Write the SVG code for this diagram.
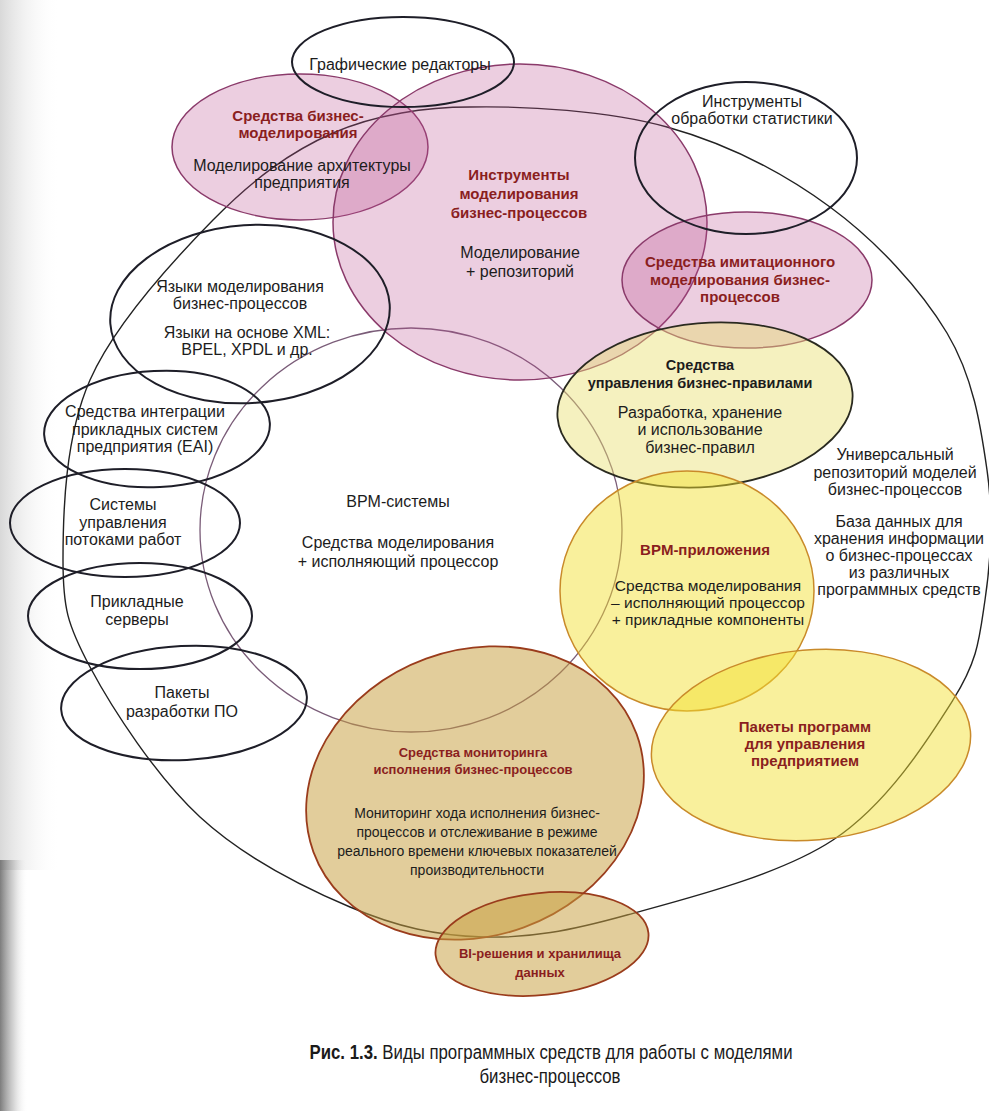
<svg xmlns="http://www.w3.org/2000/svg" width="989" height="1111" viewBox="0 0 989 1111">
<style>
  text { font-family: "Liberation Sans", Arial, sans-serif; text-anchor: middle; }
  .t { font-size: 16px; fill: #1c1c1c; }
  .ta { font-size: 15.5px; fill: #1c1c1c; }
  .tm { font-size: 14px; fill: #1c1c1c; }
  .b { font-size: 15px; font-weight: bold; fill: #8a1e1e; }
  .bs { font-size: 13px; font-weight: bold; fill: #8a1e1e; }
  .bk { font-size: 14.5px; font-weight: bold; fill: #1c1c1c; }
  .line { fill: none; }
  .blk { fill: none; stroke: #1e1e28; stroke-width: 2; }
  .pink { fill: #b94f8f; fill-opacity: 0.28; stroke: #8a3a6a; stroke-width: 1.5; }
  .rules { fill: #e8e070; fill-opacity: 0.45; stroke: #2a2a20; stroke-width: 1.8; }
  .yel { fill: #f2e030; fill-opacity: 0.48; stroke: #c98a2a; stroke-width: 1.5; }
  .tan { fill: #c8a040; fill-opacity: 0.52; stroke: #9a3c1c; stroke-width: 1.8; }
  .cap { font-family: "Liberation Sans", Arial, sans-serif; font-size: 21px; fill: #1a1a1a; }
</style>
<defs>
  <linearGradient id="edge" x1="0" y1="0" x2="1" y2="0">
    <stop offset="0" stop-color="#6e6e6e" stop-opacity="0.9"/>
    <stop offset="0.5" stop-color="#9a9a9a" stop-opacity="0.4"/>
    <stop offset="1" stop-color="#ffffff" stop-opacity="0"/>
  </linearGradient>
  <linearGradient id="edge2" x1="0" y1="0" x2="1" y2="0">
    <stop offset="0" stop-color="#c8c8c8" stop-opacity="0.7"/>
    <stop offset="1" stop-color="#ffffff" stop-opacity="0"/>
  </linearGradient>
</defs>
<rect width="989" height="1111" fill="#ffffff"/>
<rect x="0" y="0" width="60" height="870" fill="url(#edge2)"/>
<rect x="0" y="860" width="28" height="251" fill="url(#edge)"/>

<g id="connectors">
  <path id="universal-repo-outline" class="line" stroke="#222" stroke-width="1.4" d="M470,107 C525.7,106 607,110.3 667,127 C727,143.7 783.3,172.7 830,207 C876.7,241.3 920.8,289.2 947,333 C973.2,376.8 980.7,425.5 987,470 C993.3,514.5 990.7,561.7 985,600 C979.3,638.3 978.3,660 953,700 C927.7,740 887.3,804.2 833,840 C778.7,875.8 685.3,898.8 627,915 C568.7,931.2 529.2,938.3 483,937 C436.8,935.7 397.2,927 350,907 C302.8,887 243.3,857 200,817 C156.7,777 112.8,709.8 90,667 C67.2,624.2 63,607.8 63,560 C63,512.2 65,436.7 90,380 C115,323.3 172.5,261.2 213,220 C253.5,178.8 290.2,151.8 333,133 C375.8,114.2 427.2,107 470,107 Z"/>
  <ellipse id="bpm-systems-outline" class="line" cx="411" cy="530" rx="211" ry="202" stroke="#7a5c78" stroke-width="1.3"/>
</g>

<g id="n-biz-modeling"><ellipse class="pink" cx="300" cy="147" rx="128" ry="73"/></g>
<g id="n-tools"><ellipse class="pink" cx="520" cy="222" rx="187" ry="158"/></g>
<g id="n-simulation"><ellipse class="pink" cx="747" cy="280" rx="125" ry="68"/></g>
<g id="n-rules"><ellipse class="rules" cx="705" cy="405" rx="148" ry="82" transform="rotate(-5 705 405)"/></g>
<g id="n-bpm-apps"><ellipse class="yel" cx="687" cy="591" rx="127" ry="120"/></g>
<g id="n-erp"><ellipse class="yel" cx="811" cy="745" rx="160" ry="95" transform="rotate(-5 811 745)"/></g>
<g id="n-monitoring"><ellipse class="tan" cx="475" cy="793" rx="172" ry="143" transform="rotate(-20 475 793)"/></g>
<g id="n-bi"><ellipse class="tan" cx="542" cy="944" rx="107" ry="51" transform="rotate(-6 542 944)"/></g>
<g id="n-graphics"><ellipse class="blk" cx="403" cy="62" rx="111" ry="45" fill="#ffffff" fill-opacity="0.55"/></g>
<g id="n-stats"><ellipse class="blk" cx="746" cy="158" rx="111" ry="76" fill="#ffffff" fill-opacity="0.5"/></g>
<g id="n-languages"><ellipse class="blk" cx="250" cy="314" rx="140" ry="89" transform="rotate(-4 250 314)"/></g>
<g id="n-eai"><ellipse class="blk" cx="157" cy="429" rx="113" ry="58" transform="rotate(-3 157 429)"/></g>
<g id="n-workflow"><ellipse class="blk" cx="125" cy="523" rx="115" ry="54"/></g>
<g id="n-servers"><ellipse class="blk" cx="140" cy="616" rx="112" ry="53"/></g>
<g id="n-devkits"><ellipse class="blk" cx="184" cy="703" rx="123" ry="57" transform="rotate(-3 184 703)"/></g>

<g id="labels">
  <g id="l-graphics"><text class="t" x="400" y="70">Графические редакторы</text></g>
  <g id="l-biz-modeling">
    <text class="b" x="298" y="121">Средства бизнес-</text>
    <text class="b" x="298" y="138">моделирования</text>
    <text class="t" x="302" y="171">Моделирование архитектуры</text>
    <text class="t" x="302" y="188">предприятия</text>
  </g>
  <g id="l-tools">
    <text class="b" x="519" y="180">Инструменты</text>
    <text class="b" x="519" y="199">моделирования</text>
    <text class="b" x="519" y="218">бизнес-процессов</text>
    <text class="t" x="520" y="258">Моделирование</text>
    <text class="t" x="520" y="277">+ репозиторий</text>
  </g>
  <g id="l-stats">
    <text class="t" x="752" y="107">Инструменты</text>
    <text class="t" x="752" y="124">обработки статистики</text>
  </g>
  <g id="l-simulation">
    <text class="b" x="740" y="267">Средства имитационного</text>
    <text class="b" x="740" y="285">моделирования бизнес-</text>
    <text class="b" x="740" y="302">процессов</text>
  </g>
  <g id="l-rules">
    <text class="bk" x="700" y="370">Средства</text>
    <text class="bk" x="700" y="388">управления бизнес-правилами</text>
    <text class="t" x="700" y="418">Разработка, хранение</text>
    <text class="t" x="700" y="435">и использование</text>
    <text class="t" x="700" y="453">бизнес-правил</text>
  </g>
  <g id="l-universal">
    <text class="t" x="895" y="460">Универсальный</text>
    <text class="t" x="895" y="478">репозиторий моделей</text>
    <text class="t" x="895" y="495">бизнес-процессов</text>
    <text class="t" x="899" y="527">База данных для</text>
    <text class="t" x="899" y="544">хранения информации</text>
    <text class="t" x="899" y="561">о бизнес-процессах</text>
    <text class="t" x="899" y="578">из различных</text>
    <text class="t" x="899" y="595">программных средств</text>
  </g>
  <g id="l-bpm-apps">
    <text class="b" x="705" y="555">BPM-приложения</text>
    <text class="ta" x="708" y="591">Средства моделирования</text>
    <text class="ta" x="708" y="608">– исполняющий процессор</text>
    <text class="ta" x="708" y="625">+ прикладные компоненты</text>
  </g>
  <g id="l-erp">
    <text class="b" x="805" y="732">Пакеты программ</text>
    <text class="b" x="805" y="749">для управления</text>
    <text class="b" x="805" y="766">предприятием</text>
  </g>
  <g id="l-monitoring">
    <text class="bs" x="473" y="757">Средства мониторинга</text>
    <text class="bs" x="473" y="774">исполнения бизнес-процессов</text>
    <text class="tm" x="477" y="818">Мониторинг хода исполнения бизнес-</text>
    <text class="tm" x="477" y="837">процессов и отслеживание в режиме</text>
    <text class="tm" x="477" y="856">реального времени ключевых показателей</text>
    <text class="tm" x="477" y="875">производительности</text>
  </g>
  <g id="l-bi">
    <text class="bs" x="540" y="958">BI-решения и хранилища</text>
    <text class="bs" x="540" y="977">данных</text>
  </g>
  <g id="l-languages">
    <text class="t" x="240" y="292">Языки моделирования</text>
    <text class="t" x="240" y="309">бизнес-процессов</text>
    <text class="t" x="247" y="338">Языки на основе XML:</text>
    <text class="t" x="247" y="355">BPEL, XPDL и др.</text>
  </g>
  <g id="l-eai">
    <text class="t" x="145" y="417">Средства интеграции</text>
    <text class="t" x="145" y="435">прикладных систем</text>
    <text class="t" x="145" y="452">предприятия (EAI)</text>
  </g>
  <g id="l-workflow">
    <text class="t" x="123" y="510">Системы</text>
    <text class="t" x="123" y="528">управления</text>
    <text class="t" x="123" y="545">потоками работ</text>
  </g>
  <g id="l-servers">
    <text class="t" x="137" y="607">Прикладные</text>
    <text class="t" x="137" y="625">серверы</text>
  </g>
  <g id="l-devkits">
    <text class="t" x="182" y="698">Пакеты</text>
    <text class="t" x="182" y="717">разработки ПО</text>
  </g>
  <g id="l-bpm-systems">
    <text class="t" x="398" y="507">BPM-системы</text>
    <text class="t" x="398" y="548">Средства моделирования</text>
    <text class="t" x="398" y="567">+ исполняющий процессор</text>
  </g>
</g>

<g id="caption">
  <text class="cap" transform="translate(551,1059) scale(0.8,1)"><tspan font-weight="bold">Рис. 1.3.</tspan> Виды программных средств для работы с моделями</text>
  <text class="cap" transform="translate(550,1083) scale(0.8,1)">бизнес-процессов</text>
</g>
</svg>
